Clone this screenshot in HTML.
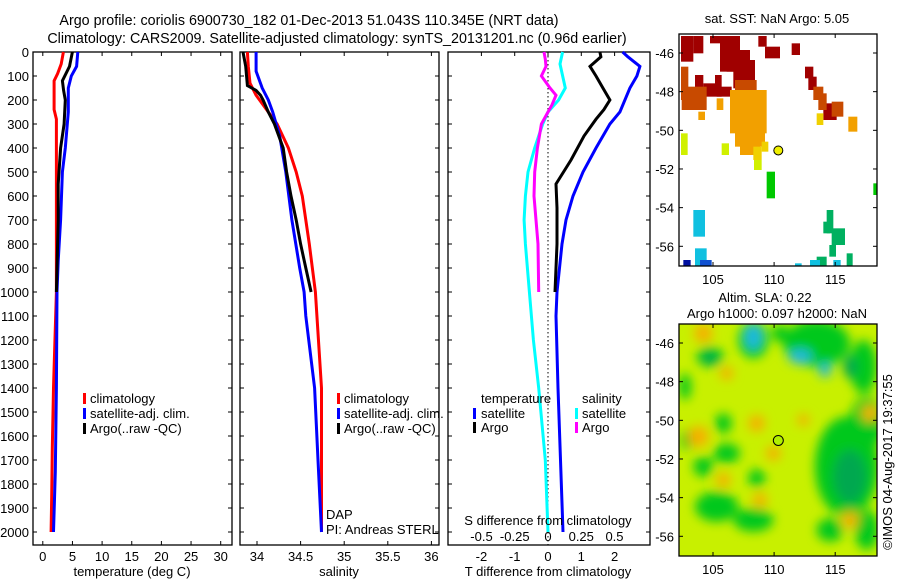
<!DOCTYPE html>
<html><head><meta charset="utf-8"><style>
body{margin:0;background:#fff;}
svg{display:block;font-family:"Liberation Sans",sans-serif;}
text{font-size:13px;fill:#000;}
</style></head><body>
<svg id="c" width="900" height="580" viewBox="0 0 900 580" xmlns="http://www.w3.org/2000/svg">
<defs><filter id="bl" x="-50%" y="-50%" width="200%" height="200%"><feGaussianBlur stdDeviation="16"/></filter>
<clipPath id="cp1"><rect x="679" y="34" width="198" height="232"/></clipPath>
<clipPath id="cp2"><rect x="679" y="324" width="198" height="232"/></clipPath></defs>
<text x="309" y="25" text-anchor="middle" style="font-size:14.3px">Argo profile: coriolis 6900730_182 01-Dec-2013 51.043S 110.345E (NRT data)</text>
<text x="337" y="43" text-anchor="middle" style="font-size:14.3px">Climatology: CARS2009. Satellite-adjusted climatology: synTS_20131201.nc (0.96d earlier)</text>
<g id="plots"></g>
<g id="maps"></g>
</svg>
<script>
const tDepth=[0,50,90,120,240,280,500,1000,1400,1650,1850,2000];
const tClim=[3.47,3.1,2.5,1.9,1.9,2.3,2.3,2.3,1.8,1.6,1.5,1.4];
const tSatDepth=[0,60,100,150,250,400,500,700,870,1000,1400,1750,2000];
const tSat=[5.9,5.7,4.8,4.3,4.3,3.8,3.3,3.0,2.6,2.4,2.3,2.1,1.8];
const tArgoDepth=[0,60,120,160,200,300,400,550,700,1000];
const tArgo=[5.0,4.5,3.3,3.5,3.8,3.6,3.0,2.6,2.6,2.3];
const sClimDepth=[0,60,130,180,250,300,400,500,600,700,800,1000,1400,2000];
const sClim=[33.89,33.9,33.92,33.99,34.13,34.23,34.36,34.45,34.52,34.56,34.6,34.67,34.74,34.74];
const sSatDepth=[0,80,150,200,250,350,500,700,900,1000,1100,1400,1700,2000];
const sSat=[33.99,33.99,34.06,34.13,34.18,34.26,34.33,34.4,34.49,34.54,34.56,34.66,34.7,34.74];
const sArgoDepth=[0,20,60,140,160,180,200,250,300,400,500,600,700,800,900,1000];
const sArgo=[33.84,33.85,33.87,33.89,33.99,34.04,34.07,34.13,34.2,34.3,34.34,34.39,34.45,34.5,34.56,34.62];
const dTSatDepth=[0,20,60,100,150,250,300,400,500,600,700,800,1000,1100,1400,2000];
const dTSat=[2.24,2.4,2.76,2.67,2.46,2.16,1.86,1.44,1.05,0.75,0.54,0.42,0.27,0.24,0.3,0.45];
const dTArgoDepth=[0,20,60,100,150,200,240,280,350,450,550,650,800,1000];
const dTArgo=[1.56,1.59,1.26,1.44,1.65,1.86,1.68,1.44,1.08,0.69,0.24,0.27,0.27,0.21];
const dSSatDepth=[0,50,150,200,250,300,400,500,600,700,800,1000,1200,1400,1700,2000];
const dSSat=[0.11,0.09,0.13,0.08,0,-0.04,-0.1,-0.15,-0.17,-0.18,-0.17,-0.14,-0.11,-0.07,-0.02,0];
const dSArgoDepth=[0,30,60,100,150,180,220,260,300,400,500,600,700,800,1000];
const dSArgo=[-0.03,-0.02,-0.015,-0.05,0.015,0.06,0.03,-0.01,-0.05,-0.08,-0.1,-0.105,-0.09,-0.075,-0.07];
const depthTicks=[0,100,200,300,400,500,600,700,800,900,1000,1100,1200,1300,1400,1500,1600,1700,1800,1900,2000];
const tTicks=[0,5,10,15,20,25,30];
const sTicks=[34,34.5,35,35.5,36];
const dTTicks=[-2,-1,0,1,2];
const dSTicks=["-0.5","-0.25","0","0.25","0.5"];
const latTicks=[-46,-48,-50,-52,-54,-56];
const lonTicks=[105,110,115];
const argoLon=110.345, argoLat=-51.043;

const NS="http://www.w3.org/2000/svg";
function mk(tag,attrs,parent,txt){const e=document.createElementNS(NS,tag);for(const k in attrs)e.setAttribute(k,attrs[k]);if(txt!==undefined)e.textContent=txt;parent.appendChild(e);return e;}
const P=document.getElementById('plots');
const yD=d=>52+d*0.24;
const xT=v=>42.8+v*5.93;
const xS=v=>257+(v-34)*87.2;
const xDT=v=>548+v*33.3;
const xDS=v=>548+v*133;
const TOP=52,BOT=545;

function frame(x0,x1,name){
  const r=mk('rect',{x:x0,y:TOP,width:x1-x0,height:BOT-TOP,fill:'none',stroke:'#000','stroke-width':1.3},P);
  
  
  depthTicks.forEach(d=>{mk('line',{x1:x0,x2:x0+4,y1:yD(d),y2:yD(d),stroke:'#000'},P);mk('line',{x1:x1,x2:x1-4,y1:yD(d),y2:yD(d),stroke:'#000'},P);});
}
function line(xs,ds,sx,color,name){
  const pts=xs.map((v,i)=>sx(v).toFixed(1)+','+yD(ds[i]).toFixed(1)).join(' ');
  const l=mk('polyline',{points:pts,fill:'none',stroke:color,'stroke-width':3,'stroke-linejoin':'miter'},P);
  
  
}
frame(33,232,'temperature-panel-frame');
depthTicks.forEach(d=>{const t=mk('text',{x:29,y:yD(d)+5,'text-anchor':'end'},P,String(d));
  
  });
tTicks.forEach(v=>{mk('line',{x1:xT(v),x2:xT(v),y1:TOP,y2:TOP+4,stroke:'#000'},P);mk('line',{x1:xT(v),x2:xT(v),y1:BOT,y2:BOT-4,stroke:'#000'},P);
  const t=mk('text',{x:xT(v),y:561,'text-anchor':'middle'},P,String(v));
  
  });
line(tClim,tDepth,xT,'#f00','temp-climatology-line');
line(tSat,tSatDepth,xT,'#00f','temp-satellite-line');
line(tArgo,tArgoDepth,xT,'#000','temp-argo-line');
frame(240,439,'salinity-panel-frame');
sTicks.forEach(v=>{mk('line',{x1:xS(v),x2:xS(v),y1:TOP,y2:TOP+4,stroke:'#000'},P);mk('line',{x1:xS(v),x2:xS(v),y1:BOT,y2:BOT-4,stroke:'#000'},P);
  const t=mk('text',{x:xS(v),y:561,'text-anchor':'middle'},P,String(v));
  
  });
line(sClim,sClimDepth,xS,'#f00','sal-climatology-line');
line(sSat,sSatDepth,xS,'#00f','sal-satellite-line');
line(sArgo,sArgoDepth,xS,'#000','sal-argo-line');
frame(448,650,'difference-panel-frame');
mk('line',{x1:548,x2:548,y1:TOP,y2:BOT,stroke:'#000','stroke-dasharray':'1.5,2.5'},P);
dTTicks.forEach(v=>{mk('line',{x1:xDT(v),x2:xDT(v),y1:TOP,y2:TOP+4,stroke:'#000'},P);
  const t=mk('text',{x:xDT(v),y:561,'text-anchor':'middle'},P,String(v));
  
  });
dSTicks.forEach(v=>{const t=mk('text',{x:xDS(parseFloat(v)),y:541,'text-anchor':'middle'},P,v);
  
  });
line(dTSat,dTSatDepth,xDT,'#00f','t-diff-satellite-line');
line(dTArgo,dTArgoDepth,xDT,'#000','t-diff-argo-line');
line(dSSat,dSSatDepth,xDS,'#0ff','s-diff-satellite-line');
line(dSArgo,dSArgoDepth,xDS,'#f0f','s-diff-argo-line');

function txt(x,y,s,name,anchor){const t=mk('text',{x:x,y:y,'text-anchor':anchor||'start'},P,s);
  
  return t;}
function swatch(x,y,c){mk('rect',{x:x,y:y-10,width:3,height:11,fill:c},P);}
txt(132,576,'temperature (deg C)','temperature-axis-title','middle');
txt(339,576,'salinity','salinity-axis-title','middle');
txt(548,576,'T difference from climatology','t-diff-axis-title','middle');
txt(548,525,'S difference from climatology','s-diff-axis-title','middle');
[['climatology','#f00'],['satellite-adj. clim.','#00f'],['Argo(..raw -QC)','#000']].forEach((e,i)=>{
  swatch(83,403+i*15,e[1]);txt(90,403+i*15,e[0],'temp-legend-entry');
  swatch(337,403+i*15,e[1]);txt(344,403+i*15,e[0],'sal-legend-entry');});
txt(481,403,'temperature','diff-legend-temperature-header');
txt(582,403,'salinity','diff-legend-salinity-header');
swatch(473,418,'#00f');txt(481,418,'satellite','diff-legend-t-satellite');
swatch(473,432,'#000');txt(481,432,'Argo','diff-legend-t-argo');
swatch(575,418,'#0ff');txt(582,418,'satellite','diff-legend-s-satellite');
swatch(575,432,'#f0f');txt(582,432,'Argo','diff-legend-s-argo');
txt(326,519,'DAP','dap-label');
txt(326,534,'PI: Andreas STERL','pi-label');

const M=document.getElementById('maps');
const mx=lon=>713+(lon-105)*12.22;
function mapAxes(y0,yLat,name){
  const r=mk('rect',{x:679,y:y0,width:198,height:232,fill:'none',stroke:'#000','stroke-width':1.3},M);
  
  
  latTicks.forEach(l=>{mk('line',{x1:679,x2:683,y1:yLat(l),y2:yLat(l),stroke:'#000'},M);mk('line',{x1:877,x2:873,y1:yLat(l),y2:yLat(l),stroke:'#000'},M);
    const t=mk('text',{x:674,y:yLat(l)+5,'text-anchor':'end'},M,String(l));
    
    });
  lonTicks.forEach(l=>{mk('line',{x1:mx(l),x2:mx(l),y1:y0+232,y2:y0+228,stroke:'#000'},M);mk('line',{x1:mx(l),x2:mx(l),y1:y0,y2:y0+4,stroke:'#000'},M);
    const t=mk('text',{x:mx(l),y:y0+250,'text-anchor':'middle'},M,String(l));
    
    });
}
const sst=[['#a00000',[[93,108,130,185],[130,108,160,160],[180,108,250,130],[210,108,270,215],[230,150,300,215],[250,180,315,265],[325,108,350,140],[345,140,390,175],[425,130,450,165],[135,225,160,290],[195,225,215,290],[200,260,245,290],[160,250,195,290],[465,200,490,235],[475,230,500,270],[520,310,560,360]]],
['#c84a00',[[93,200,115,300],[95,260,170,330],[255,240,320,295],[490,260,520,300],[505,280,530,330],[545,305,580,350]]],
['#f2a000',[[240,270,350,400],[200,295,220,330],[255,380,345,440],[270,420,330,465],[595,350,622,395],[145,335,165,360]]],
['#f0d000',[[500,340,520,375],[335,425,355,455],[310,440,335,480]]],
['#d0f000',[[93,400,113,465],[215,430,237,465],[312,480,335,510]]],
['#00c800',[[350,515,375,595],[670,550,682,585]]],
['#00b060',[[530,630,550,700],[520,665,540,700],[545,685,585,735],[538,735,558,770],[590,760,608,800],[500,770,530,800]]],
['#10c0e0',[[130,630,165,710],[135,745,170,800],[435,790,455,800],[480,780,510,800],[550,780,572,800]]],
['#1050d0',[[150,780,185,800]]],['#0010a0',[[100,780,122,800]]]];
const g1=mk('g',{'clip-path':'url(#cp1)'},M);


sst.forEach(([c,rs])=>rs.forEach(r=>mk('rect',{x:650+r[0]/3,y:r[1]/3,width:(r[2]-r[0])/3,height:(r[3]-r[1])/3,fill:c},g1)));
const ly1=l=>53+(-46-l)*19.33;
mk('circle',{cx:mx(argoLon),cy:ly1(argoLat),r:4.5,fill:'#f0f000',stroke:'#000'},M);
mapAxes(34,ly1,'sst-map-frame');
const tt=mk('text',{x:777,y:23,'text-anchor':'middle'},M,'sat. SST: NaN Argo: 5.05');



const g2=mk('g',{'clip-path':'url(#cp2)'},M);


mk('rect',{x:679,y:324,width:198,height:232,fill:'#c8f000'},g2);
const gb=mk('g',{filter:'url(#bl)',transform:'translate(650,290) scale(0.3333)'},g2);
const greens=[[590,530,95,150],[650,400,50,80],[500,160,100,70],[640,230,40,80],[180,200,40,30],[105,290,18,40],[200,650,65,45],[310,690,60,35],[540,720,40,35],[230,490,40,30],[320,565,25,28],[110,450,18,30],[160,530,30,30],[310,150,45,55],[390,130,25,25],[650,720,35,60],[220,400,25,30]];
greens.forEach(b=>mk('ellipse',{cx:b[0],cy:b[1],rx:b[2],ry:b[3],fill:'#00c81a'},gb));
[[600,560,50,80],[180,205,25,18],[600,230,20,35]].forEach(b=>mk('ellipse',{cx:b[0],cy:b[1],rx:b[2],ry:b[3],fill:'#00a850'},gb));
[[310,140,25,40],[450,200,35,22],[525,240,18,22]].forEach(b=>mk('ellipse',{cx:b[0],cy:b[1],rx:b[2],ry:b[3],fill:'#20b8e0'},gb));
[[160,130,28],[145,440,32],[230,250,20],[320,400,25],[370,490,22],[460,390,18],[600,690,25],[220,570,22],[330,630,22],[660,370,25]].forEach(b=>mk('circle',{cx:b[0],cy:b[1],r:b[2],fill:'#f5b000'},gb));
const ly2=l=>343+(-46-l)*19.33;
mk('circle',{cx:mx(argoLon),cy:ly2(argoLat),r:5,fill:'#b0f000',stroke:'#000'},M);
mapAxes(324,ly2,'sla-map-frame');
const s1=mk('text',{x:765,y:302,'text-anchor':'middle'},M,'Altim. SLA: 0.22');


const s2=mk('text',{x:777,y:318,'text-anchor':'middle'},M,'Argo h1000: 0.097 h2000: NaN');


const cr=mk('text',{x:0,y:0,'text-anchor':'middle',transform:'translate(892,462) rotate(-90)'},M,'©IMOS 04-Aug-2017 19:37:55');


</script>
</body></html>
